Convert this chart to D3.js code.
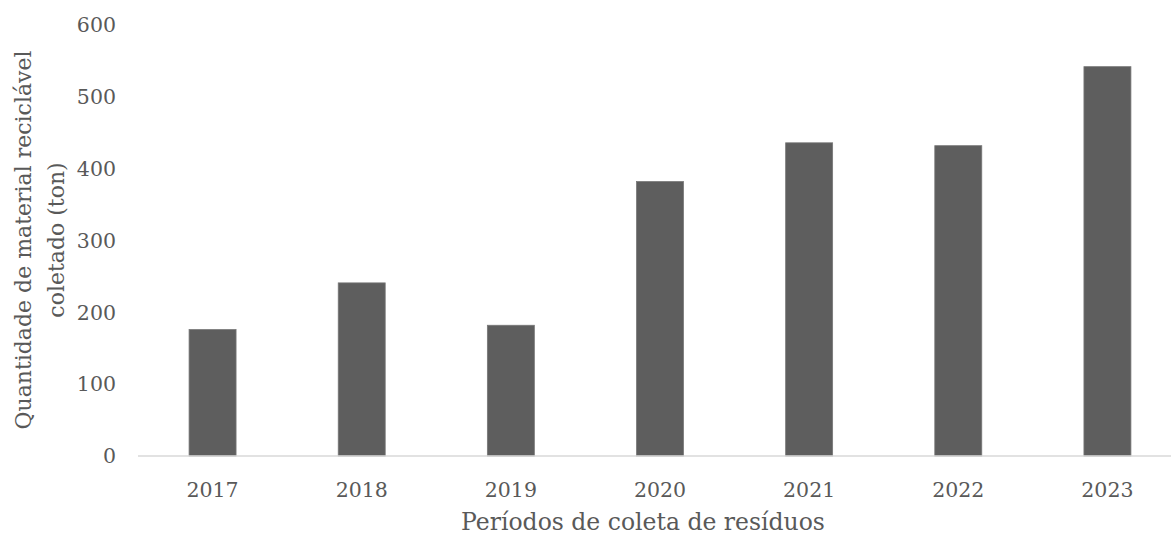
<!DOCTYPE html>
<html>
<head>
<meta charset="utf-8">
<script src="https://cdn.jsdelivr.net/npm/d3@7"></script>
<style>
  body { margin: 0; background: #fff; }
  svg { display: block; }
  text { font-family: "DejaVu Serif", serif; fill: #595959; }
</style>
</head>
<body>
<svg id="chart" width="1171" height="535"></svg>
<script>
// Data
const years = ["2017", "2018", "2019", "2020", "2021", "2022", "2023"];
const tons = [176, 241, 182, 382, 436, 432, 542];
const yTicks = [0, 100, 200, 300, 400, 500, 600];

const svg = d3.select("#chart");
const width = 1171;
const height = 535;

// Scales (plot runs off the right edge, like the source)
const x = d3.scaleBand().domain(years).range([138, 1182]).paddingInner(0.685).paddingOuter(0.3425);
const y = d3.scaleLinear().domain([0, 600]).range([456, 25]);

// Bars
svg
  .append("g")
  .selectAll("rect")
  .data(years)
  .enter()
  .append("rect")
  .attr("x", (d) => x(d))
  .attr("y", (d, i) => y(tons[i]))
  .attr("width", x.bandwidth())
  .attr("height", (d, i) => y(0) - y(tons[i]))
  .attr("fill", "#5e5e5e")
  .attr("stroke", "#777")
  .attr("stroke-width", 0.8);

// Baseline
svg
  .append("line")
  .attr("x1", 138)
  .attr("x2", width)
  .attr("y1", y(0))
  .attr("y2", y(0))
  .attr("stroke", "#d9d9d9")
  .attr("stroke-width", 1.5);

// Y tick labels
svg
  .append("g")
  .selectAll("text")
  .data(yTicks)
  .enter()
  .append("text")
  .attr("x", 116)
  .attr("y", (d) => y(d))
  .attr("dy", "0.35em")
  .attr("text-anchor", "end")
  .style("font-size", "20.5px")
  .text((d) => d);

// X tick labels
svg
  .append("g")
  .selectAll("text")
  .data(years)
  .enter()
  .append("text")
  .attr("x", (d) => x(d) + x.bandwidth() / 2)
  .attr("y", 490)
  .attr("dy", "0.35em")
  .attr("text-anchor", "middle")
  .style("font-size", "20.5px")
  .text((d) => d);

// Axis titles
svg
  .append("text")
  .attr("x", 643)
  .attr("y", 522)
  .attr("dy", "0.35em")
  .attr("text-anchor", "middle")
  .style("font-size", "23.5px")
  .text("Períodos de coleta de resíduos");

const yTitle = svg
  .append("text")
  .attr("transform", "translate(23,240) rotate(-90)")
  .attr("text-anchor", "middle")
  .style("font-size", "22px");

yTitle.append("tspan").attr("x", 0).attr("dy", "0.35em").text("Quantidade de material reciclável");
yTitle.append("tspan").attr("x", 0).attr("dy", "1.5em").text("coletado (ton)");
</script>
</body>
</html>
